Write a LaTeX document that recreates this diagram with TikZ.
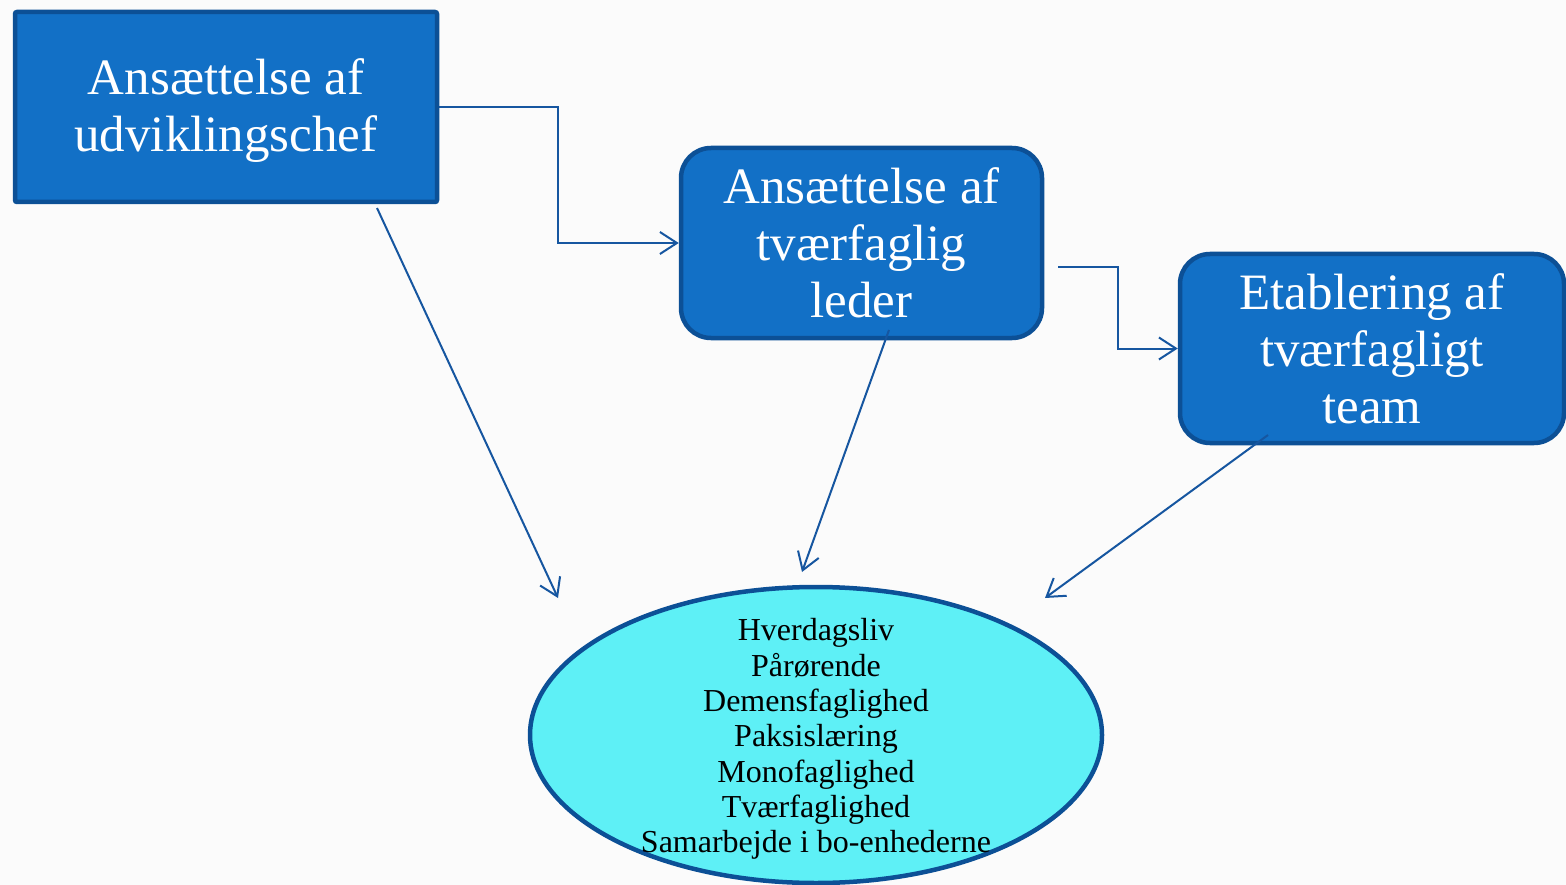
\documentclass[tikz,border=0pt]{standalone}
\usepackage{fontspec}
\setmainfont{Liberation Serif}
\usetikzlibrary{arrows.meta,shapes.geometric}

\definecolor{boxblue}{RGB}{18,112,198}
\definecolor{edgeblue}{RGB}{12,80,150}
\definecolor{lineblue}{RGB}{22,86,160}
\definecolor{goalcyan}{RGB}{94,240,246}
\definecolor{paper}{RGB}{251,251,251}

\begin{document}
\begin{tikzpicture}[x=1pt,y=-1pt,>={Straight Barb[length=17pt,width=22pt]},thin]
\tikzstyle{every node}=[inner sep=0pt]
\tikzstyle{stage}=[draw=edgeblue,fill=boxblue,line width=4.5pt,text=white,align=center,font=\fontsize{51}{57}\selectfont]
\tikzstyle{link}=[->,draw=lineblue,line width=2pt]

\fill[paper] (0,0) rectangle (1566,885);
\useasboundingbox (0,0) rectangle (1566,885);

\node[stage]        (U) at (226,107)   [minimum width=422pt,minimum height=190pt,rounded corners=2pt] {};
\node               (Utext) at (U)     [text=white,align=center,font=\fontsize{51}{57}\selectfont,yshift=-4pt] {Ansættelse af\\udviklingschef};
\node[stage]        (L) at (861.5,243) [minimum width=361pt,minimum height=190pt,rounded corners=30pt] {Ansættelse af\\tværfaglig\\leder};
\node[stage]        (T) at (1372,348.5) [minimum width=384pt,minimum height=189pt,rounded corners=30pt] {Etablering af\\tværfagligt\\team};
\node[ellipse]      (M) at (816,735)   [draw=edgeblue,fill=goalcyan,line width=4.5pt,minimum width=572pt,minimum height=296pt] {};
\node               (Mtext) at (M)     [align=center,font=\fontsize{32}{35.3}\selectfont,yshift=-4pt]
  {Hverdagsliv\\Pårørende\\Demensfaglighed\\Paksislæring\\Monofaglighed\\Tværfaglighed\\Samarbejde i bo-enhederne};

\coordinate (L0) at (1058,267);
\coordinate (U1) at (377,208);
\coordinate (U2) at (558,598);
\coordinate (L1) at (889,330);
\coordinate (L2) at (802,572);
\coordinate (T1) at (1268,435);
\coordinate (T2) at (1045,598);

\draw[link] (U.east) -- ++(119,0) |- (L.west);
\draw[link] (L0) -- ++(60,0) |- (T.west);
\path
(U1) edge[link] (U2)
(L1) edge[link] (L2)
(T1) edge[link] (T2)
;
\end{tikzpicture}
\end{document}
